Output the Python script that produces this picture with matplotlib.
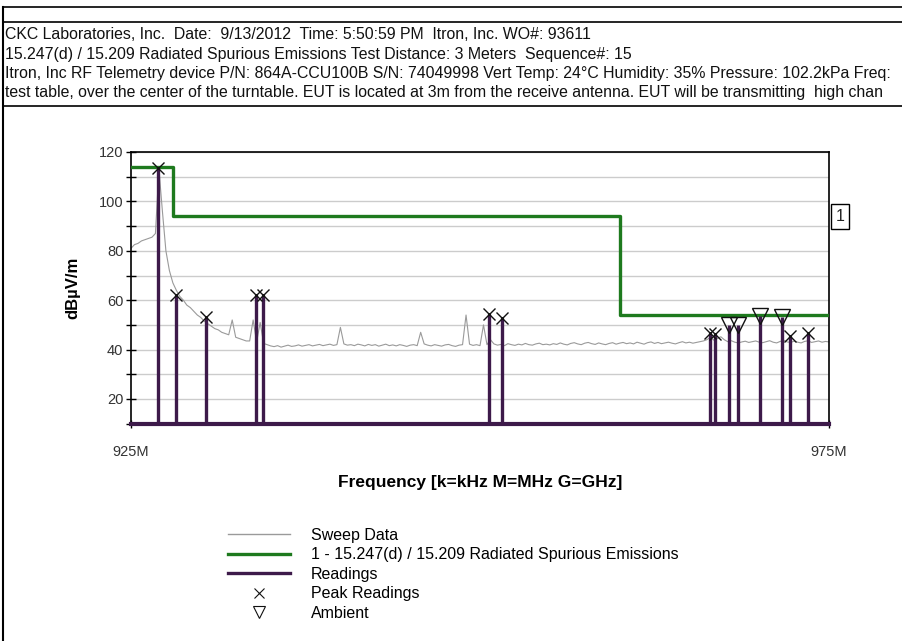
import numpy as np
import matplotlib
matplotlib.use("Agg")
import matplotlib.pyplot as plt
from matplotlib.lines import Line2D

plt.rcParams["font.family"] = ["Liberation Sans", "DejaVu Sans"]

# header lines
header_lines = [
    "CKC Laboratories, Inc.  Date:  9/13/2012  Time: 5:50:59 PM  Itron, Inc. WO#: 93611",
    "15.247(d) / 15.209 Radiated Spurious Emissions Test Distance: 3 Meters  Sequence#: 15",
    "Itron, Inc RF Telemetry device P/N: 864A-CCU100B S/N: 74049998 Vert Temp: 24\u00b0C Humidity: 35% Pressure: 102.2kPa Freq:",
    "test table, over the center of the turntable. EUT is located at 3m from the receive antenna. EUT will be transmitting  high chan",
]

# sweep data (dBuV/m), 0.25 MHz steps from 925 to 975 MHz
sweep_vals = [
    81, 82.5, 83, 84, 84.5, 85, 85.5, 87,
    113,
    96, 80, 72, 67, 64, 61.5, 60, 58, 57, 55.5, 54, 53, 51.5, 50.5, 49.5, 48.5,
    48, 47, 46.5, 46, 52, 45, 44.5, 44, 43.5, 43.5, 52, 43, 51, 42.5, 42, 41.5,
    41.2, 41.6, 41.0, 41.4, 41.8, 41.3, 41.5, 41.9, 41.4, 41.7, 42.0, 41.5, 41.8, 42.1, 41.6, 41.9, 42.2, 41.7, 42.0, 49.0,
    42.3, 41.8, 42.0, 41.6, 42.2, 41.9, 41.5, 42.1, 41.7, 42.0, 41.4, 41.8, 42.2, 41.6, 41.9, 41.5, 42.0, 41.7, 41.3, 41.8,
    42.0, 41.6, 47.0, 42.3, 41.8, 41.5, 42.0, 41.7, 41.4, 41.9, 42.1, 41.6, 41.3, 41.8, 42.0, 54.0, 42.2, 41.7, 42.0, 41.6,
    50.0, 42.0, 44.0, 42.3, 41.8, 42.1, 41.6, 42.4, 42.0, 41.7, 42.2, 41.9, 42.5, 42.0, 41.8, 42.3, 42.6, 42.0, 42.2, 41.9,
    42.4, 42.1, 42.7, 42.2, 41.9, 42.5, 42.8, 42.3, 42.0, 42.6, 42.9, 42.4, 42.1, 42.7, 42.3, 42.0, 42.5, 42.8, 42.2, 42.6,
    42.9, 42.4, 42.7, 42.3, 43.0, 42.6, 42.2, 42.8, 43.1, 42.5, 42.9, 42.4, 42.7, 43.0, 42.6, 42.3, 42.8, 43.2, 42.7, 43.0,
    42.6, 42.9, 43.2, 43.5, 44.0, 45.0, 43.8, 44.5, 45.2, 44.0, 43.2, 43.6, 43.0, 42.7, 43.1, 43.4, 42.9, 43.2, 43.5, 43.0,
    42.8, 43.2, 43.6, 43.0, 42.7, 43.3, 43.8, 43.1, 42.9, 43.4, 43.0, 42.7, 43.3, 43.6, 42.9, 43.2, 43.5, 43.0, 43.3, 43.1,
]
sweep_freq = np.linspace(925, 975, len(sweep_vals))

# limit line 1 (step edges)
limit_freq = [925, 928, 960, 975]
limit_level = [113.9, 93.9, 54.0, 54.0]

# readings
peak_freq = [926.93, 928.2, 930.37, 933.98, 934.43, 950.67, 951.55, 966.47, 966.85, 972.2, 973.5]
peak_level = [113.6, 62.1, 53.3, 62.0, 62.0, 54.3, 52.8, 46.8, 46.2, 45.5, 46.8]
amb_freq = [967.84, 968.46, 970.06, 971.6]
amb_level = [50.0, 50.0, 53.6, 53.3]

ymin, ymax = 10, 120
purple = "#3d1a4a"
green = "#1e7a1e"

fig = plt.figure(figsize=(9.03, 6.41), dpi=100)

# header frame
W, H = 903.0, 641.0
def fx(px):
    return px / W
def fy(py):
    return 1 - py / H
for yy in (7, 22, 106):
    fig.add_artist(Line2D([fx(2.5), 1], [fy(yy), fy(yy)], color="black", lw=1.2))
fig.add_artist(Line2D([fx(2.5), fx(2.5)], [fy(7), 0], color="black", lw=1.5))
for i, line in enumerate(header_lines):
    fig.text(fx(5), fy(34.5 + i * 19.5), line, fontsize=11.4, va="center", ha="left", color="#111111")

ax = fig.add_axes([131 / W, 1 - 423.7 / H, (829 - 131) / W, (423.7 - 152) / H])

ax.set_xlim(925, 975)
ax.set_ylim(ymin, ymax)
ax.set_yticks(np.arange(20, 121, 20))
ax.set_yticks(np.arange(10, 121, 10), minor=True)
ax.set_xticks([925, 975])
ax.set_xticklabels(["925M", "975M"])
ax.grid(True, which="both", axis="y", color="#cccccc", lw=1)
ax.tick_params(axis="y", which="both", direction="inout", length=7, width=1, labelsize=10.5,
               labelcolor="#333333", pad=2)
ax.tick_params(axis="x", direction="inout", length=6, width=1, labelsize=10.5,
               labelcolor="#333333", pad=12)
for s in ax.spines.values():
    s.set_linewidth(1.2)

ax.plot(sweep_freq, sweep_vals, color="#9a9a9a", lw=0.8, zorder=2)
ax.step(limit_freq, limit_level, where="post", color=green, lw=2.4, zorder=3)

all_freq = peak_freq + amb_freq
all_level = peak_level + amb_level
ax.vlines(all_freq, ymin, all_level, color=purple, lw=2.4, zorder=4)
ax.axhline(ymin, color=purple, lw=3, zorder=4, clip_on=False)
ax.plot(peak_freq, peak_level, "x", color="#111111", ms=8, mew=1, zorder=5)
ax.plot(amb_freq, amb_level, "v", color="#111111", mfc="none", ms=11, mew=1, zorder=5)

ax.set_ylabel("dB\u00b5V/m", fontsize=12, fontweight="bold", labelpad=13)
ax.set_xlabel("Frequency [k=kHz M=MHz G=GHz]", fontsize=12.5, fontweight="bold", labelpad=12)

# limit tag
ax.annotate("1", xy=(975, limit_level[1]), xycoords="data", xytext=(8, 0), textcoords="offset points",
            ha="center", va="center", fontsize=11.5, color="#222222",
            bbox=dict(boxstyle="square,pad=0.3", fc="white", ec="black", lw=1),
            annotation_clip=False)

handles = [
    Line2D([], [], color="#9a9a9a", lw=1),
    Line2D([], [], color=green, lw=2.4),
    Line2D([], [], color=purple, lw=2.4),
    Line2D([], [], ls="none", marker="x", color="#111111", ms=7, mew=0.8),
    Line2D([], [], ls="none", marker="v", color="#111111", mfc="none", ms=9, mew=0.8),
]
labels = ["Sweep Data", "1 - 15.247(d) / 15.209 Radiated Spurious Emissions", "Readings",
          "Peak Readings", "Ambient"]
fig.legend(handles, labels, loc="upper left", bbox_to_anchor=(fx(220), fy(520)), frameon=False,
           fontsize=11.5, handlelength=3.9, handletextpad=1.3, labelspacing=0.28, borderpad=0)

fig.savefig("out.png", dpi=100)
